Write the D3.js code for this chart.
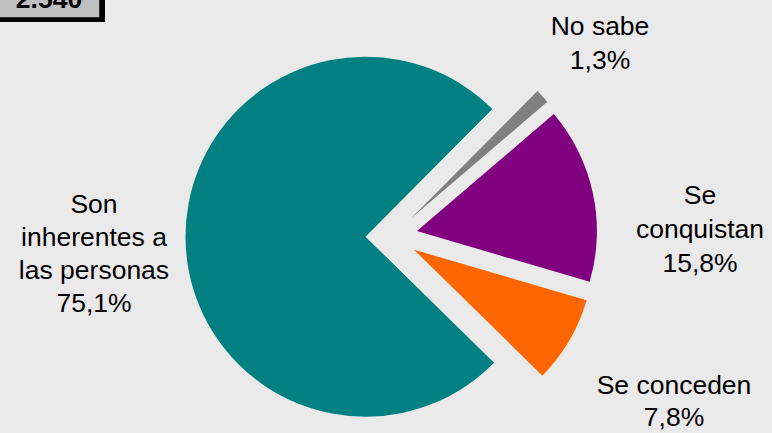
<!DOCTYPE html>
<html>
<head>
<meta charset="utf-8">
<script src="https://cdn.jsdelivr.net/npm/d3@7"></script>
<style>
  html, body { margin: 0; padding: 0; background: #eaeaea; }
  svg { display: block; }
  text { font-family: "Liberation Sans", Arial, sans-serif; fill: #000; }
</style>
</head>
<body>
<script>
// ---- data ----
const categories = ["No sabe", "Se conquistan", "Se conceden", "Son inherentes a las personas"];
const values = [1.3, 15.8, 7.8, 75.1];
const labelLines = [["No sabe"], ["Se", "conquistan"], ["Se conceden"], ["Son", "inherentes a", "las personas"]];
const colors = ["#808080", "#800080", "#FF6600", "#008080"];
const totalLabel = "2.540";

// ---- layout ----
const W = 772, H = 433;
const cx = 391.5, cy = 236.5, R = 180, explode = 26;
const startDeg = 44.8;
// label centre x and first baseline
const labelLayout = [
  { x: 600, y: 34.5, lh: 34 },
  { x: 700, y: 204, lh: 34 },
  { x: 674, y: 394, lh: 32 },
  { x: 94, y: 213, lh: 33 }
];

const svg = d3.select("body").append("svg").attr("width", W).attr("height", H);
svg.append("rect").attr("width", W).attr("height", H).attr("fill", "#eaeaea");

const start = startDeg * Math.PI / 180;
const pie = d3.pie().sort(null).value(d => d).startAngle(start).endAngle(start + 2 * Math.PI);
const arcs = pie(values);
const arc = d3.arc().innerRadius(0).outerRadius(R);

const g = svg.append("g").attr("transform", `translate(${cx},${cy})`);
g.selectAll("path").data(arcs).join("path")
  .attr("d", arc)
  .attr("fill", (d, i) => colors[i])
  .attr("transform", d => {
    const a = (d.startAngle + d.endAngle) / 2;
    return `translate(${explode * Math.sin(a)},${-explode * Math.cos(a)})`;
  });

const fmt = v => d3.format(".1f")(v).replace(".", ",") + "%";

categories.forEach((c, i) => {
  const L = labelLayout[i];
  const lines = labelLines[i].concat([fmt(values[i])]);
  const t = svg.append("text").attr("text-anchor", "middle").attr("font-size", 26.5);
  lines.forEach((ln, k) => {
    t.append("tspan").attr("x", L.x).attr("y", L.y + k * L.lh).text(ln);
  });
});

// total box (partially cut off at top-left)
svg.append("rect").attr("x", -10).attr("y", -10).attr("width", 115).attr("height", 32).attr("fill", "#000");
svg.append("rect").attr("x", -10).attr("y", -10).attr("width", 110).attr("height", 28)
  .attr("fill", "#c0c0c0").attr("stroke", "#000").attr("stroke-width", 1.5);
svg.append("text").attr("x", 49).attr("y", 7.5).attr("text-anchor", "middle")
  .attr("font-size", 26.5).attr("font-weight", "bold").text(totalLabel);
</script>
</body>
</html>
